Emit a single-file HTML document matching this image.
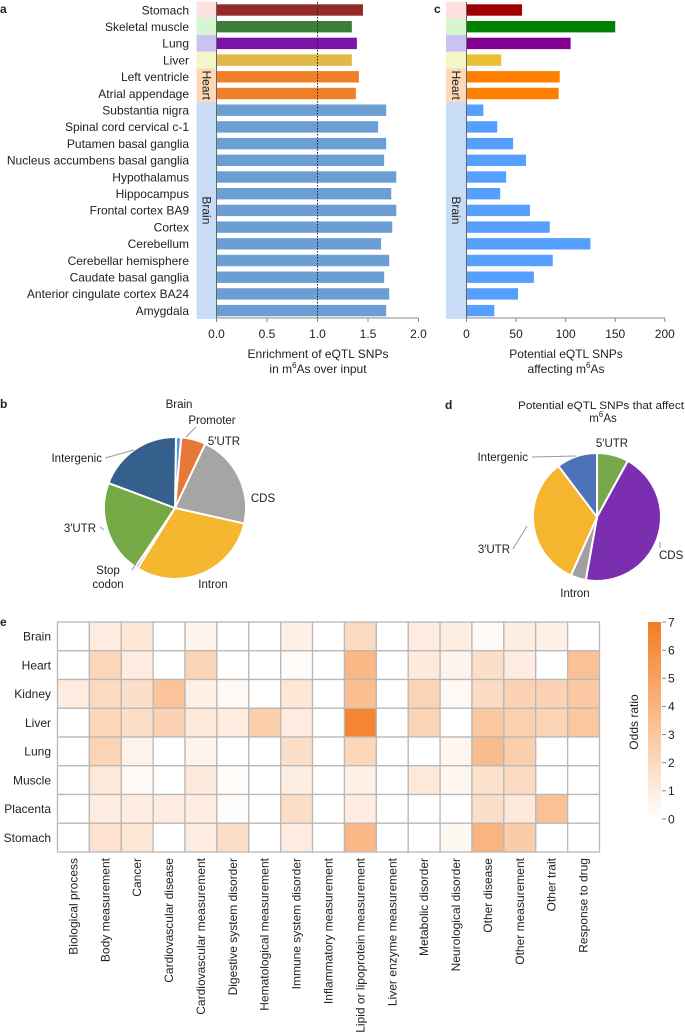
<!DOCTYPE html>
<html><head><meta charset="utf-8"><style>
body{margin:0;background:#fff;}
svg{display:block;font-family:"Liberation Sans",sans-serif;}
text{fill:#222;}
</style></head><body>
<svg id="fig" width="685" height="1034" viewBox="0 0 685 1034" xmlns="http://www.w3.org/2000/svg">
<g id="pa"></g>
<g id="pc"></g>
<g id="pb"></g>
<g id="pd"></g>
<g id="pe"></g>
</svg>
<script>
const tissues=["Stomach","Skeletal muscle","Lung","Liver","Left ventricle","Atrial appendage","Substantia nigra","Spinal cord cervical c-1","Putamen basal ganglia","Nucleus accumbens basal ganglia","Hypothalamus","Hippocampus","Frontal cortex BA9","Cortex","Cerebellum","Cerebellar hemisphere","Caudate basal ganglia","Anterior cingulate cortex BA24","Amygdala"];
const enrichment=[1.45,1.34,1.39,1.34,1.41,1.38,1.68,1.60,1.68,1.66,1.78,1.73,1.78,1.74,1.63,1.71,1.66,1.71,1.68];
const snpCounts=[56,150,105,35,94,93,17,31,47,60,40,34,64,84,125,87,68,52,28];
const enrichTicks=[0,0.5,1.0,1.5,2.0];
const enrichTickLabels=["0.0","0.5","1.0","1.5","2.0"];
const countTicks=[0,50,100,150,200];
const pieBLabels=["Promoter","5′UTR","CDS","Intron","Stop codon","3′UTR","Intergenic"];
const pieBValues=[1.2,5.6,21.5,30.3,0.6,21.3,19.5];
const pieDLabels=["5′UTR","CDS","Intron","3′UTR","Intergenic"];
const pieDValues=[8.0,44.8,3.9,33.0,10.3];
const heatRows=["Brain","Heart","Kidney","Liver","Lung","Muscle","Placenta","Stomach"];
const heatCols=["Biological process","Body measurement","Cancer","Cardiovascular disease","Cardiovascular measurement","Digestive system disorder","Hematological measurement","Immune system disorder","Inflammatory measurement","Lipid or lipoprotein measurement","Liver enzyme measurement","Metabolic disorder","Neurological disorder","Other disease","Other measurement","Other trait","Response to drug"];
const heatBrain=[0,1,1.3,0,0.6,0,0,0.8,0,2,0,1,0.9,0.3,0.9,0.8,0];
const heatHeart=[0,2.2,1,0,2.3,0,0,0.2,0,3.8,0,1.1,0.6,1.7,1,0,3.3];
const heatKidney=[1,2,1.7,3.2,0.8,0.3,0,1.3,0,3.5,0,2.3,0.3,1.9,2.4,2.4,2.9];
const heatLiver=[0,2.1,1.8,2.4,1.2,1,2.6,1,0,6.5,0,2.3,0,3,2.5,2.3,3];
const heatLung=[0,2.3,0.7,0,0.6,0,0,1.7,0,2.2,0,0,0.5,3.6,2.6,0,0];
const heatMuscle=[0,1.2,0.3,0,1.1,0.2,0,0.9,0,0.8,0,1.2,0.5,1.6,1.9,0,0];
const heatPlacenta=[0,1,1,1,1,0.1,0,1.8,0,1,0,0,0,1.7,1.2,3.3,0];
const heatStomach=[0,1.5,1.3,0,1,1.8,0,1,0,3.8,0,0,0.4,4,2.7,0,0];
const colorTicks=[0,1,2,3,4,5,6,7];

const NS="http://www.w3.org/2000/svg";
function mk(p,tag,at,txt){const e=document.createElementNS(NS,tag);for(const k in at)e.setAttribute(k,at[k]);if(txt!==undefined)e.textContent=txt;p.appendChild(e);return e;}

const rowY=i=>10+i*16.7;
const groupsA=[{n:"",s:0,e:0,b:"#fde0e0"},{n:"",s:1,e:1,b:"#d5f5d0"},{n:"",s:2,e:2,b:"#cac2f2"},{n:"",s:3,e:3,b:"#f5f6c8"},{n:"Heart",s:4,e:5,b:"#fdd9b8"},{n:"Brain",s:6,e:18,b:"#c8dcf5"}];
const colA=["#932a26","#3b7d3b","#7a13a8","#dfb845","#f07f28","#f07f28"];
const colC=["#a00000","#008000","#800090","#e8c030","#ff8000","#ff8000"];
function bandCol(i,arr,brain){return i<6?arr[i]:brain;}

// panel a
(function(){
const g=document.getElementById('pa');
const x0=216.5,x1=418.5;const X=v=>x0+(v-0)/(2-0)*(x1-x0);
const t=mk(g,'text',{x:0,y:13,'font-size':12,'font-weight':'bold'},'a');
groupsA.forEach(gr=>{const r=mk(g,'rect',{x:196.5,y:rowY(gr.s)-8.35,width:20,height:(gr.e-gr.s+1)*16.7,fill:gr.b});
if(gr.n){const cy=(rowY(gr.s)+rowY(gr.e))/2;const tx=mk(g,'text',{x:206.5,y:cy,'font-size':12,'text-anchor':'middle',transform:`rotate(90 206.5 ${cy})`,'dominant-baseline':'central'},gr.n);}});
tissues.forEach((n,i)=>{const y=rowY(i);
const l=mk(g,'text',{x:189,y:y+4.3,'font-size':12,'text-anchor':'end'},n);
const b=mk(g,'rect',{x:X(0),y:y-5.7,width:X(enrichment[i])-X(0),height:11.4,fill:bandCol(i,colA,"#6b9fd4")});});
const ax=mk(g,'line',{x1:x0,x2:x1,y1:318,y2:318,stroke:'#888'});
mk(g,'line',{x1:x0,x2:x0,y1:2,y2:318,stroke:'#666'});
const dl=mk(g,'line',{x1:X(1),x2:X(1),y1:2,y2:318,stroke:'#222','stroke-dasharray':'1.5,1.5'});
enrichTicks.forEach((v,i)=>{mk(g,'line',{x1:X(v),x2:X(v),y1:318,y2:322,stroke:'#888'});const tl=mk(g,'text',{x:X(v),y:338,'font-size':12,'text-anchor':'middle'},enrichTickLabels[i]);});
const a1=mk(g,'text',{x:318,y:358,'font-size':12,'text-anchor':'middle'},'Enrichment of eQTL SNPs');
const a2=mk(g,'text',{x:318,y:373,'font-size':12,'text-anchor':'middle'});a2.innerHTML='in m<tspan dy="-5" font-size="8">6</tspan><tspan dy="5">As over input</tspan>';
})();

// panel c
(function(){
const g=document.getElementById('pc');
const x0=466.5,x1=664.8;const X=v=>x0+v/200*(x1-x0);
const t=mk(g,'text',{x:434,y:13,'font-size':12,'font-weight':'bold'},'c');
groupsA.forEach(gr=>{const r=mk(g,'rect',{x:446,y:rowY(gr.s)-8.35,width:20.5,height:(gr.e-gr.s+1)*16.7,fill:gr.b});
if(gr.n){const cy=(rowY(gr.s)+rowY(gr.e))/2;mk(g,'text',{x:456,y:cy,'font-size':12,'text-anchor':'middle',transform:`rotate(90 456 ${cy})`,'dominant-baseline':'central'},gr.n);}});
tissues.forEach((n,i)=>{const y=rowY(i);const b=mk(g,'rect',{x:X(0),y:y-5.7,width:X(snpCounts[i])-X(0),height:11.4,fill:bandCol(i,colC,"#55a0ff")});});
mk(g,'line',{x1:x0,x2:x1,y1:318,y2:318,stroke:'#888'});
mk(g,'line',{x1:x0,x2:x0,y1:2,y2:318,stroke:'#666'});
countTicks.forEach(v=>{mk(g,'line',{x1:X(v),x2:X(v),y1:318,y2:322,stroke:'#888'});const tl=mk(g,'text',{x:X(v),y:338,'font-size':12,'text-anchor':'middle'},String(v));});
const a1=mk(g,'text',{x:566,y:358,'font-size':12,'text-anchor':'middle'},'Potential eQTL SNPs');
const a2=mk(g,'text',{x:566,y:373,'font-size':12,'text-anchor':'middle'});a2.innerHTML='affecting m<tspan dy="-5" font-size="8">6</tspan><tspan dy="5">As</tspan>';
})();

function pie(g,cx,cy,r,vals,cols,start){
const tot=vals.reduce((a,b)=>a+b,0);let a=start;
vals.forEach((v,i)=>{const a2=a+v/tot*360;const rad=d=>(d-90)*Math.PI/180;
const x1=cx+r*Math.cos(rad(a)),y1=cy+r*Math.sin(rad(a)),x2=cx+r*Math.cos(rad(a2)),y2=cy+r*Math.sin(rad(a2));
const p=mk(g,'path',{d:`M${cx},${cy}L${x1},${y1}A${r},${r} 0 ${a2-a>180?1:0} 1 ${x2},${y2}Z`,fill:cols[i],stroke:'#fff','stroke-width':2});
a=a2;});}
function lbl(g,x,y,t,anc){const e=mk(g,'text',{x:x,y:y,'font-size':11.5,'text-anchor':anc||'middle'},t);return e;}

// panel b
(function(){
const g=document.getElementById('pb');
const t=mk(g,'text',{x:0,y:408,'font-size':12,'font-weight':'bold'},'b');
const tt=mk(g,'text',{x:179,y:408,'font-size':11.5,'text-anchor':'middle'},'Brain');
pie(g,175,508,71,pieBValues,["#5b9bd5","#e8783a","#a5a5a5","#f5b730","#4472c4","#75a945","#355f8d"],0.8);
lbl(g,212,424,pieBLabels[0]);mk(g,'line',{x1:186,y1:437,x2:196,y2:427,stroke:'#999'});
lbl(g,224,445,pieBLabels[1]);
lbl(g,263,502,pieBLabels[2]);
lbl(g,213,588,pieBLabels[3]);
lbl(g,108,574,'Stop');lbl(g,108,588,'codon');mk(g,'line',{x1:132,y1:570,x2:137,y2:562,stroke:'#999'});
lbl(g,96,532,pieBLabels[5],'end');mk(g,'line',{x1:100,y1:527,x2:104,y2:530,stroke:'#999'});
lbl(g,102,462,pieBLabels[6],'end');mk(g,'line',{x1:105,y1:458,x2:134,y2:450,stroke:'#999'});
})();

// panel d
(function(){
const g=document.getElementById('pd');
const t=mk(g,'text',{x:445,y:409,'font-size':12,'font-weight':'bold'},'d');
const t1=mk(g,'text',{x:601,y:409,'font-size':11,'text-anchor':'middle',textLength:166,lengthAdjust:'spacingAndGlyphs'},'Potential eQTL SNPs that affect');
const t2=mk(g,'text',{x:603,y:422,'font-size':11.5,'text-anchor':'middle'});t2.innerHTML='m<tspan dy="-5" font-size="8">6</tspan><tspan dy="5">As</tspan>';
pie(g,597,517,64,pieDValues,["#78a84a","#7b2eb0","#a0a0a0","#f5b52e","#4e72b8"],0);
lbl(g,612,447,pieDLabels[0]);
lbl(g,659,559,pieDLabels[1],'start');mk(g,'line',{x1:660,y1:542,x2:660,y2:548,stroke:'#999'});
lbl(g,575,597,pieDLabels[2]);
lbl(g,510,553,pieDLabels[3],'end');mk(g,'line',{x1:513,y1:549,x2:527,y2:526,stroke:'#999'});
lbl(g,528,461,pieDLabels[4],'end');mk(g,'line',{x1:532,y1:457,x2:576,y2:456,stroke:'#999'});
})();

// panel e heatmap
(function(){
const g=document.getElementById('pe');
const data=[heatBrain,heatHeart,heatKidney,heatLiver,heatLung,heatMuscle,heatPlacenta,heatStomach];
const x0=57.5,x1=599.5,y0=622,y1=852;
const cw=(x1-x0)/heatCols.length,rh=(y1-y0)/heatRows.length;
const col=v=>{const t=Math.max(0,Math.min(1,v/7));const r=Math.round(255+(244-255)*t),gg=Math.round(255+(124-255)*t),b=Math.round(255+(32-255)*t);return `rgb(${r},${gg},${b})`;};
const t=mk(g,'text',{x:0,y:626,'font-size':12,'font-weight':'bold'},'e');
data.forEach((row,i)=>{
const rl=mk(g,'text',{x:51,y:y0+rh*(i+0.5)+4.3,'font-size':12,'text-anchor':'end'},heatRows[i]);
row.forEach((v,j)=>{const c=mk(g,'rect',{x:x0+j*cw,y:y0+i*rh,width:cw,height:rh,fill:col(v),stroke:'#b8b8b8','stroke-width':1.3});});});
heatCols.forEach((n,j)=>{const cx=x0+cw*(j+0.5)+4;const l=mk(g,'text',{x:cx,y:858,'font-size':12,'text-anchor':'end',transform:`rotate(-90 ${cx} 858)`},n);});
const cbx=648,cbw=13,cby0=819,cby1=622;const CY=v=>cby0+(cby1-cby0)*v/7;
const defs=mk(g,'defs',{});const lg=mk(defs,'linearGradient',{id:'cbg',x1:0,y1:1,x2:0,y2:0});
mk(lg,'stop',{offset:0,'stop-color':col(0)});mk(lg,'stop',{offset:1,'stop-color':col(7)});
const cb=mk(g,'rect',{x:cbx,y:CY(7),width:cbw,height:CY(0)-CY(7),fill:'url(#cbg)'});
colorTicks.forEach(v=>{mk(g,'line',{x1:cbx+cbw+1,x2:cbx+cbw+5,y1:CY(v),y2:CY(v),stroke:'#888'});const tl=mk(g,'text',{x:668,y:CY(v)+4.3,'font-size':12},String(v));});
const ot=mk(g,'text',{x:638,y:722,'font-size':12,'text-anchor':'middle',transform:'rotate(-90 638 722)'},'Odds ratio');
})();
</script>
</body></html>
